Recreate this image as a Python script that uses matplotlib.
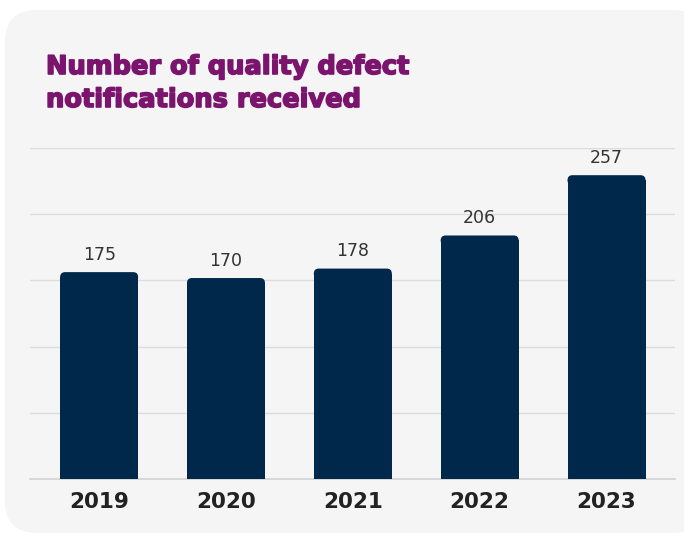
import numpy as np
import matplotlib.pyplot as plt
import matplotlib.patheffects as pe
from matplotlib.patches import FancyBboxPatch

years = ['2019', '2020', '2021', '2022', '2023']
counts = [175, 170, 178, 206, 257]
grid_ticks = [0, 56, 112, 168, 224, 280]

title = 'Number of quality defect\nnotifications received'
navy = '#00284a'
purple = '#7a146d'
panel = '#f5f5f5'

W, H = 684, 539
fig = plt.figure(figsize=(W / 100, H / 100), dpi=100)
fig.patch.set_facecolor('white')

# background panel drawn in pixel coords
bg = fig.add_axes([0, 0, 1, 1])
bg.set_xlim(0, W)
bg.set_ylim(H, 0)
bg.axis('off')
bg.add_patch(FancyBboxPatch((5, 10), 700, 523,
                            boxstyle='round,pad=0,rounding_size=32',
                            fc=panel, ec='none'))
bg.text(46, 107, title, color=purple, fontsize=18.5, fontweight='heavy',
        family='DejaVu Sans', va='baseline', ha='left', linespacing=1.35,
        path_effects=[pe.withStroke(linewidth=1.2, foreground=purple)])

ax = fig.add_axes([30 / W, 1 - 479 / H, 645 / W, (479 - 148) / H])
ax.set_facecolor('none')
x = np.arange(len(years))
bw = 0.615
bars = ax.bar(x, counts, bw, color=navy, zorder=3)

# rounded top corners
rx = 5 / 126.9
ry = 5 / 1.182
for b in bars:
    bx, bh = b.get_x(), b.get_height()
    b.set_height(bh - ry)
    ax.add_patch(FancyBboxPatch((bx, bh - 2 * ry), bw, 2 * ry,
                                boxstyle='round,pad=0,rounding_size=%f' % rx,
                                mutation_aspect=ry / rx,
                                fc=navy, ec='none', zorder=3))

for xi, v in zip(x, counts):
    ax.annotate(str(v), (xi, v), xytext=(0, 6), textcoords='offset points',
                ha='center', va='bottom', fontsize=12.5, color='#333333')

ax.set_xlim(-0.545, 4.54)
ax.set_ylim(0, 280)
ax.set_yticks(grid_ticks)
ax.yaxis.grid(True, color='#dcdcdc', lw=1)
ax.axhline(0, color='#d2d2d2', lw=1.2, clip_on=False, zorder=2)
ax.set_axisbelow(True)
ax.tick_params(left=False, labelleft=False, bottom=False)
ax.set_xticks(x)
ax.set_xticklabels(years, fontsize=15.5, fontweight='bold', color='#222222')
ax.tick_params(axis='x', pad=6)
for s in ax.spines.values():
    s.set_visible(False)

fig.savefig('out.png', dpi=100)
